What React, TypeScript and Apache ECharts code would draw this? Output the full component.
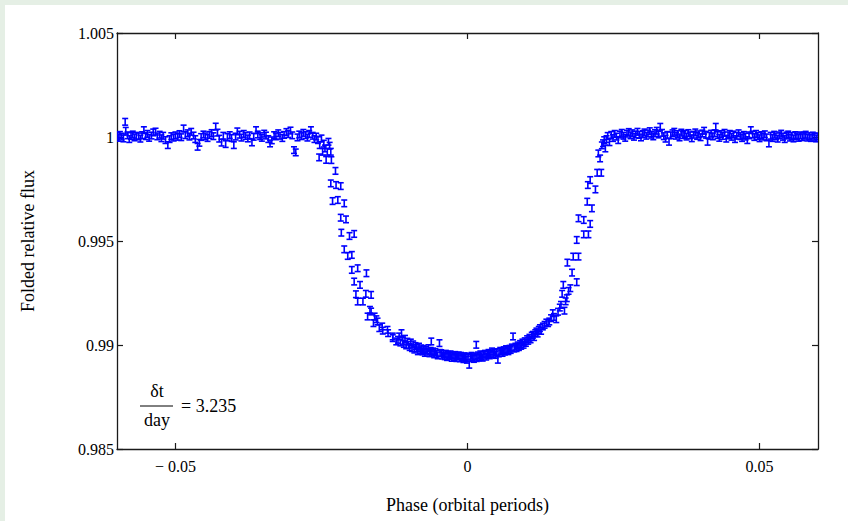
import React, { useEffect, useRef } from "react";
import * as echarts from "echarts";

// ---- Data (phase in orbital periods, folded relative flux) ----
const preIngress: number[][] = [
  [-0.06, 1.00004], [-0.0598, 0.99996], [-0.0595, 1.0001], [-0.0592, 1.00002], [-0.0589, 0.99993],
  [-0.0586, 1.00073], [-0.0585, 1.0003], [-0.0582, 1.00008], [-0.0579, 0.9999], [-0.0576, 1.00005],
  [-0.0573, 1.00012], [-0.057, 0.99998], [-0.0567, 1.00006], [-0.0563, 1.00003], [-0.056, 0.99992],
  [-0.0557, 1.00009], [-0.0554, 1.00033], [-0.0551, 1.00004], [-0.0548, 1.00015], [-0.0545, 0.99996],
  [-0.0541, 1.00007], [-0.0538, 1.00022], [-0.0534, 1.00026], [-0.0531, 1.00003], [-0.0527, 1.00011],
  [-0.0524, 0.99994], [-0.0521, 1.00006], [-0.0517, 0.99985], [-0.0513, 0.99961], [-0.051, 0.9999],
  [-0.0507, 1.00004], [-0.0503, 0.99997], [-0.05, 1.00008], [-0.0496, 1.00001], [-0.0493, 1.00014],
  [-0.049, 0.99999], [-0.0486, 1.00041], [-0.0483, 1.00009], [-0.0479, 1.00018], [-0.0476, 1.00002],
  [-0.0473, 1.00025], [-0.0469, 1.00007], [-0.0466, 0.9999], [-0.0462, 0.99953], [-0.0459, 0.99972],
  [-0.0456, 1.0], [-0.0452, 1.00012], [-0.0449, 1.00003], [-0.0445, 0.99995], [-0.0442, 1.0001],
  [-0.0438, 1.00019], [-0.0435, 1.00004], [-0.0431, 1.0005], [-0.0428, 1.00021], [-0.0425, 0.99992],
  [-0.0421, 0.99973], [-0.0418, 1.00006], [-0.0414, 0.99966], [-0.0411, 1.0], [-0.0407, 1.00009],
  [-0.0404, 0.99995], [-0.04, 0.99961], [-0.0397, 1.00002], [-0.0394, 1.00027], [-0.039, 1.00011],
  [-0.0387, 0.99997], [-0.0383, 1.00015], [-0.038, 1.00005], [-0.0376, 0.99993], [-0.0373, 1.00008],
  [-0.0369, 0.99974], [-0.0366, 1.00001], [-0.0362, 1.00033], [-0.0359, 1.00012], [-0.0355, 1.00004],
  [-0.0352, 0.99996], [-0.0348, 1.00016], [-0.0345, 1.00007], [-0.0341, 0.9999], [-0.0338, 0.99969],
  [-0.0335, 0.99984], [-0.0331, 1.00009], [-0.0328, 1.00003], [-0.0324, 1.00018], [-0.0321, 1.00006],
  [-0.0317, 0.99995], [-0.0314, 1.0001], [-0.031, 1.00024], [-0.0307, 1.00014], [-0.0303, 1.00031],
  [-0.03, 1.00008], [-0.0297, 0.99937], [-0.0294, 0.99926], [-0.0291, 0.99998], [-0.0288, 1.00012],
  [-0.0284, 1.00004], [-0.0281, 1.0002], [-0.0277, 1.00009], [-0.0274, 0.99997], [-0.0271, 1.00015],
  [-0.0268, 1.00033], [-0.0265, 1.00006], [-0.0262, 0.9999],
];

const ingress: number[][] = [
  [-0.0259, 1.00002], [-0.0256, 0.99985], [-0.0254, 0.99902], [-0.0253, 0.99961], [-0.025, 0.99993],
  [-0.0248, 0.99929], [-0.0246, 0.99968], [-0.0244, 0.99945], [-0.0242, 0.9989], [-0.024, 0.99929],
  [-0.0238, 0.99977], [-0.0236, 0.99958], [-0.0234, 0.99929], [-0.0233, 0.99889], [-0.0234, 0.99777],
  [-0.0231, 0.99692], [-0.0226, 0.99837], [-0.0225, 0.99769], [-0.0222, 0.99697], [-0.0217, 0.99764],
  [-0.0217, 0.99612], [-0.0216, 0.9954], [-0.0211, 0.99681], [-0.0211, 0.9946], [-0.0208, 0.99604],
  [-0.0205, 0.99428], [-0.0202, 0.99524], [-0.0198, 0.99433], [-0.0198, 0.99361], [-0.0194, 0.99534],
  [-0.0194, 0.99305], [-0.0191, 0.99244], [-0.0188, 0.99369], [-0.0188, 0.99209], [-0.0184, 0.99289],
  [-0.0179, 0.99209], [-0.0174, 0.99246], [-0.0173, 0.99345], [-0.0171, 0.99137], [-0.0167, 0.99169],
  [-0.0165, 0.99241], [-0.0165, 0.99161], [-0.0161, 0.99105], [-0.0159, 0.99137], [-0.0156, 0.99124],
  [-0.0154, 0.99113], [-0.0151, 0.99081], [-0.0146, 0.99089], [-0.0145, 0.99069], [-0.0137, 0.99073],
  [-0.0136, 0.99057], [-0.0128, 0.99041], [-0.0128, 0.99033], [-0.0122, 0.99017],
];

const transitFloor: number[][] = [
  [-0.0119, 0.99025], [-0.0117, 0.99041], [-0.0115, 0.99012], [-0.0113, 0.99057], [-0.0111, 0.9902],
  [-0.0109, 0.99005], [-0.0107, 0.9903], [-0.0105, 0.98998], [-0.0103, 0.99016], [-0.0101, 0.99001],
  [-0.0099, 0.9899], [-0.0097, 0.99012], [-0.0095, 0.98985], [-0.0093, 0.99003], [-0.0091, 0.98978],
  [-0.0089, 0.98995], [-0.0087, 0.98985], [-0.0085, 0.9897], [-0.0083, 0.98992], [-0.0081, 0.98975],
  [-0.0079, 0.98984], [-0.0077, 0.98969], [-0.0075, 0.9898], [-0.0073, 0.98962], [-0.0071, 0.98976],
  [-0.0069, 0.98968], [-0.0067, 0.98985], [-0.0065, 0.9896], [-0.0063, 0.98972], [-0.0062, 0.99017],
  [-0.0061, 0.98963], [-0.0059, 0.98969], [-0.0057, 0.98955], [-0.0055, 0.98966], [-0.0053, 0.98958],
  [-0.0051, 0.9895], [-0.0048, 0.99009], [-0.0047, 0.98962], [-0.0045, 0.98961], [-0.0043, 0.98949],
  [-0.0041, 0.98956], [-0.0039, 0.98946], [-0.0037, 0.98958], [-0.0035, 0.98942], [-0.0033, 0.98953],
  [-0.0031, 0.98947], [-0.0029, 0.98955], [-0.0027, 0.98938], [-0.0025, 0.9895], [-0.0023, 0.98943],
  [-0.0021, 0.98952], [-0.0019, 0.98937], [-0.0017, 0.98945], [-0.0015, 0.9895], [-0.0013, 0.98936],
  [-0.0011, 0.98948], [-0.0009, 0.98941], [-0.0007, 0.98932], [-0.0005, 0.98946], [-0.0003, 0.98938],
  [-0.0001, 0.98929], [0.0001, 0.98944], [0.0003, 0.98905], [0.0005, 0.98937], [0.0007, 0.98948],
  [0.0009, 0.9894], [0.0011, 0.98933], [0.0013, 0.98945], [0.0015, 0.99001], [0.0016, 0.98937],
  [0.0018, 0.9895], [0.002, 0.98941], [0.0022, 0.98955], [0.0024, 0.98946], [0.0026, 0.98939],
  [0.0028, 0.98953], [0.003, 0.98958], [0.0032, 0.98944], [0.0034, 0.98955], [0.0036, 0.98962],
  [0.0038, 0.9895], [0.004, 0.98957], [0.0042, 0.98969], [0.0044, 0.98955], [0.0046, 0.98963],
  [0.0048, 0.98952], [0.005, 0.98966], [0.0052, 0.98929], [0.0054, 0.9896], [0.0056, 0.98972],
  [0.0058, 0.98969], [0.006, 0.98962], [0.0062, 0.98975], [0.0064, 0.98968], [0.0066, 0.9898],
  [0.0068, 0.98975], [0.007, 0.9897], [0.0072, 0.98982], [0.0074, 0.98976], [0.0076, 0.98988],
  [0.0078, 0.99041], [0.008, 0.98983], [0.0082, 0.98992], [0.0084, 0.98985], [0.0086, 0.98998],
  [0.0088, 0.9899], [0.009, 0.99005], [0.0092, 0.98996], [0.0094, 0.99012], [0.0096, 0.99001],
  [0.0098, 0.99018], [0.01, 0.9901], [0.0102, 0.99028], [0.0104, 0.9902], [0.0106, 0.99035],
  [0.0108, 0.99027], [0.011, 0.99045], [0.0112, 0.99049], [0.0114, 0.99038], [0.0116, 0.99057],
  [0.0118, 0.99065], [0.012, 0.99055],
];

const egress: number[][] = [
  [0.0122, 0.99073], [0.0124, 0.99081], [0.0126, 0.99068], [0.0129, 0.99089], [0.0132, 0.99097],
  [0.0135, 0.99108], [0.0138, 0.99105], [0.014, 0.99113], [0.0143, 0.99129], [0.0146, 0.99153],
  [0.0148, 0.99135], [0.0152, 0.99124], [0.0155, 0.9916], [0.0158, 0.9918], [0.016, 0.99193],
  [0.0162, 0.99246], [0.0164, 0.99289], [0.0166, 0.99165], [0.0168, 0.9921], [0.017, 0.99225],
  [0.0171, 0.99396], [0.0173, 0.9926], [0.0176, 0.99273], [0.0179, 0.99348], [0.0181, 0.99425],
  [0.0187, 0.99302], [0.0187, 0.99505], [0.019, 0.99425], [0.019, 0.99609], [0.0199, 0.99532],
  [0.0199, 0.99601], [0.0205, 0.99689], [0.0206, 0.99769], [0.0207, 0.99532], [0.021, 0.99582],
  [0.021, 0.99793], [0.0213, 0.99657], [0.0219, 0.99748], [0.0222, 0.99828], [0.0224, 0.99921],
  [0.0227, 0.99897], [0.0229, 0.99828], [0.023, 0.9996], [0.0232, 0.9997], [0.0234, 0.99985],
  [0.0236, 0.99945],
];

const postEgress: number[][] = [
  [0.0238, 0.9999], [0.024, 1.00005], [0.0243, 0.99975], [0.0246, 1.0001], [0.0249, 0.99995],
  [0.0252, 1.00015], [0.0255, 1.00002], [0.0258, 0.99985], [0.0261, 1.00012], [0.0264, 1.0002],
  [0.0267, 1.00006], [0.027, 0.99996], [0.0273, 1.00016], [0.0276, 1.00024], [0.0279, 1.00008],
  [0.0282, 1.00018], [0.0285, 1.00001], [0.0288, 1.00012], [0.0291, 1.00025], [0.0294, 1.0001],
  [0.0297, 0.99998], [0.03, 1.00014], [0.0303, 1.00022], [0.0306, 1.00006], [0.0309, 1.00017],
  [0.0312, 1.00028], [0.0315, 1.00011], [0.0318, 1.00003], [0.0321, 1.00019], [0.0324, 1.0003],
  [0.0327, 1.00012], [0.033, 1.00049], [0.0333, 1.0002], [0.0336, 1.00004], [0.0339, 0.99992],
  [0.0342, 1.0001], [0.0345, 0.99977], [0.0348, 1.00008], [0.0351, 1.00018], [0.0354, 1.00025],
  [0.0357, 1.00006], [0.036, 1.00014], [0.0363, 0.99998], [0.0366, 1.00021], [0.0369, 1.00009],
  [0.0372, 1.00015], [0.0375, 1.00002], [0.0378, 1.00019], [0.0381, 1.00008], [0.0384, 0.99994],
  [0.0387, 1.00011], [0.039, 1.00022], [0.0393, 1.00005], [0.0396, 1.00013], [0.0399, 0.99999],
  [0.0402, 1.00017], [0.0405, 1.0003], [0.0408, 1.00011], [0.0411, 0.99977], [0.0414, 1.00006],
  [0.0417, 1.00016], [0.042, 1.00003], [0.0423, 1.00018], [0.0425, 1.00049], [0.0428, 1.00009],
  [0.0431, 0.99996], [0.0434, 1.00014], [0.0437, 1.00005], [0.044, 1.0002], [0.0443, 0.99992],
  [0.0446, 1.00008], [0.0449, 1.00015], [0.0452, 1.00001], [0.0455, 1.00012], [0.0458, 0.9999],
  [0.0461, 1.00006], [0.0464, 1.00018], [0.0467, 1.00004], [0.047, 0.99995], [0.0473, 1.0001],
  [0.0476, 1.00002], [0.0479, 0.99985], [0.0482, 1.00008], [0.0485, 1.00033], [0.0488, 1.00012],
  [0.0491, 1.0], [0.0494, 1.00015], [0.0497, 1.00005], [0.05, 0.99994], [0.0503, 1.00009],
  [0.0506, 1.00002], [0.0509, 1.00013], [0.0512, 0.99998], [0.0516, 0.99969], [0.0519, 1.00006],
  [0.0522, 0.99995], [0.0525, 1.00011], [0.0528, 1.00003], [0.0531, 0.99992], [0.0534, 1.00008],
  [0.0537, 1.00016], [0.054, 1.00001], [0.0543, 0.9999], [0.0546, 1.00007], [0.0549, 1.00012],
  [0.0552, 0.99997], [0.0555, 1.00005], [0.0558, 0.99993], [0.0561, 1.00009], [0.0564, 1.00003],
  [0.0567, 0.99996], [0.057, 1.00008], [0.0573, 0.99999], [0.0576, 1.00006], [0.0579, 1.00011],
  [0.0582, 0.99997], [0.0585, 1.00004], [0.0588, 0.99995], [0.0591, 1.00007], [0.0594, 1.00001],
  [0.0597, 0.99993], [0.06, 1.00003],
];

const fluxError = 0.00016;
const xTicks = [-0.05, 0, 0.05];
const xRange = [-0.06, 0.06];
const yRange = [0.985, 1.005];
const yStep = 0.005;
const periodRatioLabel = "3.235";

const serif = "'Liberation Serif', 'DejaVu Serif', serif";

function fmt(v: number): string {
  return String(parseFloat(v.toFixed(4)));
}

export default function App() {
  const ref = useRef<HTMLDivElement>(null);

  useEffect(() => {
    if (!ref.current) return;
    const chart = echarts.init(ref.current, undefined, { renderer: "svg" });
    const data = [...preIngress, ...ingress, ...transitFloor, ...egress, ...postEgress];
    const axisLine = { show: true, onZero: false, lineStyle: { color: "#1a1a1a", width: 1.3 } };
    const tickStyle = { color: "#1a1a1a", width: 1.2 };
    const blue = "#0000ff";

    chart.setOption({
      animation: false,
      backgroundColor: "#ffffff",
      grid: { left: 117, right: 30, top: 33, bottom: 72, containLabel: false },
      xAxis: [
        {
          type: "value",
          position: "bottom",
          min: xRange[0],
          max: xRange[1],
          axisLine,
          splitLine: { show: false },
          axisTick: { show: true, inside: true, length: 6, customValues: xTicks, lineStyle: tickStyle },
          axisLabel: {
            show: true,
            customValues: xTicks,
            color: "#000",
            fontFamily: serif,
            fontSize: 16,
            margin: 9,
            formatter: (v: number) => (v < 0 ? "\u2212 " + fmt(-v) : fmt(v)),
          },
          name: "Phase (orbital periods)",
          nameLocation: "middle",
          nameGap: 47,
          nameTextStyle: { color: "#000", fontFamily: serif, fontSize: 18 },
        },
        {
          type: "value",
          position: "top",
          min: xRange[0],
          max: xRange[1],
          axisLine,
          splitLine: { show: false },
          axisTick: { show: true, inside: true, length: 6, customValues: xTicks, lineStyle: tickStyle },
          axisLabel: { show: false },
        },
      ],
      yAxis: [
        {
          type: "value",
          position: "left",
          min: yRange[0],
          max: yRange[1],
          interval: yStep,
          axisLine,
          splitLine: { show: false },
          axisTick: { show: true, inside: true, length: 6, lineStyle: tickStyle },
          axisLabel: {
            color: "#000",
            fontFamily: serif,
            fontSize: 16,
            margin: 3,
            formatter: (v: number) => fmt(v),
          },
          name: "Folded relative flux",
          nameLocation: "middle",
          nameGap: 80,
          nameRotate: 90,
          nameTextStyle: { color: "#000", fontFamily: serif, fontSize: 18 },
        },
        {
          type: "value",
          position: "right",
          min: yRange[0],
          max: yRange[1],
          interval: yStep,
          axisLine,
          splitLine: { show: false },
          axisTick: { show: true, inside: true, length: 6, lineStyle: tickStyle },
          axisLabel: { show: false },
        },
      ],
      graphic: [
        { type: "rect", left: 0, top: 0, shape: { width: 848, height: 5 }, style: { fill: "#e5efe5" }, silent: true },
        { type: "rect", left: 0, top: 0, shape: { width: 5, height: 521 }, style: { fill: "#e5efe5" }, silent: true },
        {
          type: "text", x: 157, y: 391,
          style: { text: "\u03b4t", fill: "#000", font: `18px ${serif}`, align: "center", verticalAlign: "middle" },
        },
        {
          type: "line", shape: { x1: 140, y1: 406, x2: 173, y2: 406 },
          style: { stroke: "#000", lineWidth: 1 },
        },
        {
          type: "text", x: 157, y: 420,
          style: { text: "day", fill: "#000", font: `18px ${serif}`, align: "center", verticalAlign: "middle" },
        },
        {
          type: "text", x: 181, y: 406,
          style: { text: "= " + periodRatioLabel, fill: "#000", font: `18px ${serif}`, align: "left", verticalAlign: "middle" },
        },
      ],
      series: [
        {
          type: "custom",
          xAxisIndex: 0,
          yAxisIndex: 0,
          clip: true,
          silent: true,
          data,
          encode: { x: 0, y: 1 },
          renderItem: (_params: any, api: any) => {
            const x = api.value(0);
            const y = api.value(1);
            const top = api.coord([x, y + fluxError]);
            const bot = api.coord([x, y - fluxError]);
            const cx = top[0];
            const hw = 3;
            const style = { stroke: blue, lineWidth: 1.6, fill: null };
            return {
              type: "group",
              children: [
                { type: "line", shape: { x1: cx, y1: top[1], x2: cx, y2: bot[1] }, style },
                { type: "line", shape: { x1: cx - hw, y1: top[1], x2: cx + hw, y2: top[1] }, style },
                { type: "line", shape: { x1: cx - hw, y1: bot[1], x2: cx + hw, y2: bot[1] }, style },
              ],
            };
          },
        },
      ],
    });

    return () => chart.dispose();
  }, []);

  return (
    <div
      ref={ref}
      style={{ position: "fixed", left: 0, top: 0, width: 848, height: 521, background: "#fff" }}
    />
  );
}
